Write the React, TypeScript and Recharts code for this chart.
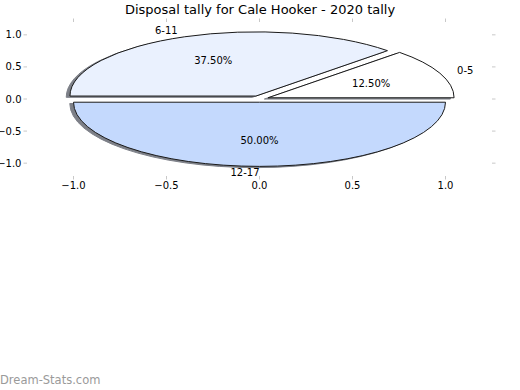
import React from 'react';
import { ScatterChart, Scatter, XAxis, YAxis, PieChart, Pie, Cell } from 'recharts';

// slice data
const categories = ['0-5', '6-11', '12-17'];
const tallies = [1, 3, 4];
const sliceColors = ['#FFFFFF', '#EAF1FE', '#C4D9FD'];
const tickValues = [-1, -0.5, 0, 0.5, 1];

// layout (matplotlib axes box, px)
const W = 520;
const H = 390;
const PLOT = { left: 27, right: 492, top: 22, bottom: 176 };
const X_DOMAIN: [number, number] = [-1.25, 1.25];
const Y_DOMAIN: [number, number] = [-1.2, 1.2];
const RX = (PLOT.right - PLOT.left) / (X_DOMAIN[1] - X_DOMAIN[0]);
const RY = (PLOT.bottom - PLOT.top) / (Y_DOMAIN[1] - Y_DOMAIN[0]);
const CX = PLOT.left - X_DOMAIN[0] * RX;
const CY = PLOT.top + Y_DOMAIN[1] * RY;
const EXPLODE = 0.05;

const FONT = '"DejaVu Sans", sans-serif';
const TICK_GREY = '#c8c8c8';

const pieData = categories.map((name, i) => ({ name, value: tallies[i] }));
// invisible anchor points so the cartesian axes get laid out
const axisAnchors = tickValues.map((v) => ({ x: v, y: v }));

const fmtTick = (v: number) => (v < 0 ? '\u2212' : '') + Math.abs(v).toFixed(1);

const RAD = Math.PI / 180;

// elliptical wedge, exploded along its mid angle
const wedgePath = (p: any, ox = 0, oy = 0) => {
  const { cx, cy, outerRadius, startAngle, endAngle } = p;
  const k = RY / RX;
  const rx = outerRadius;
  const ry = outerRadius * k;
  const mid = (startAngle + endAngle) / 2;
  const x0 = cx + EXPLODE * rx * Math.cos(mid * RAD) + ox;
  const y0 = cy - EXPLODE * ry * Math.sin(mid * RAD) + oy;
  const sx = x0 + rx * Math.cos(startAngle * RAD);
  const sy = y0 - ry * Math.sin(startAngle * RAD);
  const ex = x0 + rx * Math.cos(endAngle * RAD);
  const ey = y0 - ry * Math.sin(endAngle * RAD);
  const large = endAngle - startAngle > 180 ? 1 : 0;
  return `M${x0},${y0} L${sx},${sy} A${rx},${ry} 0 ${large} 0 ${ex},${ey} Z`;
};

const WedgeShape = (p: any) => (
  <path d={wedgePath(p)} fill={p.fill} stroke="#1a1a1a" strokeWidth={1} strokeLinejoin="miter" />
);

const ShadowShape = (p: any) => (
  <path d={wedgePath(p, -0.02 * RX, 0.02 * RY)} fill="#7d8088" stroke="#7d8088" strokeWidth={1} />
);

const renderLabels = (p: any) => {
  const { cx, cy, midAngle, outerRadius, percent, index } = p;
  const k = RY / RX;
  const c = Math.cos(midAngle * RAD);
  const s = Math.sin(midAngle * RAD);
  const x0 = cx + EXPLODE * outerRadius * c;
  const y0 = cy - EXPLODE * outerRadius * k * s;
  const lx = x0 + 1.1 * outerRadius * c;
  const ly = y0 - 1.1 * outerRadius * k * s;
  const px = x0 + 0.6 * outerRadius * c;
  const py = y0 - 0.6 * outerRadius * k * s;
  return (
    <g key={`lbl-${index}`}>
      <text x={lx} y={ly} textAnchor={c > 1e-9 ? 'start' : 'end'} dominantBaseline="central"
        fontSize={10} fontFamily={FONT} fill="#000">
        {categories[index]}
      </text>
      <text x={px} y={py} textAnchor="middle" dominantBaseline="central"
        fontSize={10} fontFamily={FONT} fill="#000">
        {(percent * 100).toFixed(2)}%
      </text>
    </g>
  );
};

const emptyTick = () => <g />;
const noDot = () => <g />;

export default function App() {
  return (
    <div style={{ position: 'absolute', left: 0, top: 0, width: W, height: H, background: '#fff', fontFamily: FONT }}>
      <div style={{ position: 'absolute', left: 0, top: 0 }}>
        <ScatterChart width={W} height={H} margin={{ top: 0, right: 0, bottom: 0, left: 0 }}>
          <XAxis xAxisId="b" dataKey="x" type="number" orientation="bottom" domain={X_DOMAIN} ticks={tickValues}
            allowDataOverflow height={H - PLOT.bottom} axisLine={false}
            tickLine={{ stroke: TICK_GREY }} tickSize={3.5} tickMargin={2}
            tickFormatter={fmtTick} tick={{ fill: '#000', fontSize: 10, fontFamily: FONT }} />
          <XAxis xAxisId="t" dataKey="x" type="number" orientation="top" domain={X_DOMAIN} ticks={tickValues}
            allowDataOverflow height={PLOT.top} axisLine={false}
            tickLine={{ stroke: TICK_GREY }} tickSize={3.5} tick={emptyTick} />
          <YAxis yAxisId="l" dataKey="y" type="number" orientation="left" domain={Y_DOMAIN} ticks={tickValues}
            allowDataOverflow width={PLOT.left} axisLine={false}
            tickLine={{ stroke: TICK_GREY }} tickSize={3.5} tickMargin={2}
            tickFormatter={fmtTick} tick={{ fill: '#000', fontSize: 10, fontFamily: FONT }} />
          <YAxis yAxisId="r" dataKey="y" type="number" orientation="right" domain={Y_DOMAIN} ticks={tickValues}
            allowDataOverflow width={W - PLOT.right} axisLine={false}
            tickLine={{ stroke: TICK_GREY }} tickSize={3.5} tick={emptyTick} />
          <Scatter data={axisAnchors} xAxisId="b" yAxisId="l" shape={noDot} isAnimationActive={false} />
          <Scatter data={axisAnchors} xAxisId="t" yAxisId="r" shape={noDot} isAnimationActive={false} />
        </ScatterChart>
      </div>
      <div style={{ position: 'absolute', left: 0, top: 0 }}>
        <PieChart width={W} height={H} margin={{ top: 0, right: 0, bottom: 0, left: 0 }}>
          <Pie data={pieData} dataKey="value" nameKey="name" cx={CX} cy={CY} outerRadius={RX}
            startAngle={0} endAngle={360} isAnimationActive={false} stroke="none"
            shape={ShadowShape} activeShape={ShadowShape} inactiveShape={ShadowShape} label={false} labelLine={false}>
            {pieData.map((d, i) => <Cell key={`s-${i}`} fill={sliceColors[i]} />)}
          </Pie>
          <Pie data={pieData} dataKey="value" nameKey="name" cx={CX} cy={CY} outerRadius={RX}
            startAngle={0} endAngle={360} isAnimationActive={false}
            shape={WedgeShape} activeShape={WedgeShape} inactiveShape={WedgeShape}
            label={renderLabels} labelLine={false}>
            {pieData.map((d, i) => <Cell key={`c-${i}`} fill={sliceColors[i]} />)}
          </Pie>
        </PieChart>
      </div>
      <div style={{ position: 'absolute', left: 0, top: 2, width: W, textAlign: 'center', fontSize: 13, color: '#000' }}>
        Disposal tally for Cale Hooker - 2020 tally
      </div>
      <div style={{ position: 'absolute', left: 0, top: 373, fontSize: 11.5, color: '#9a9a9a' }}>
        Dream-Stats.com
      </div>
    </div>
  );
}
